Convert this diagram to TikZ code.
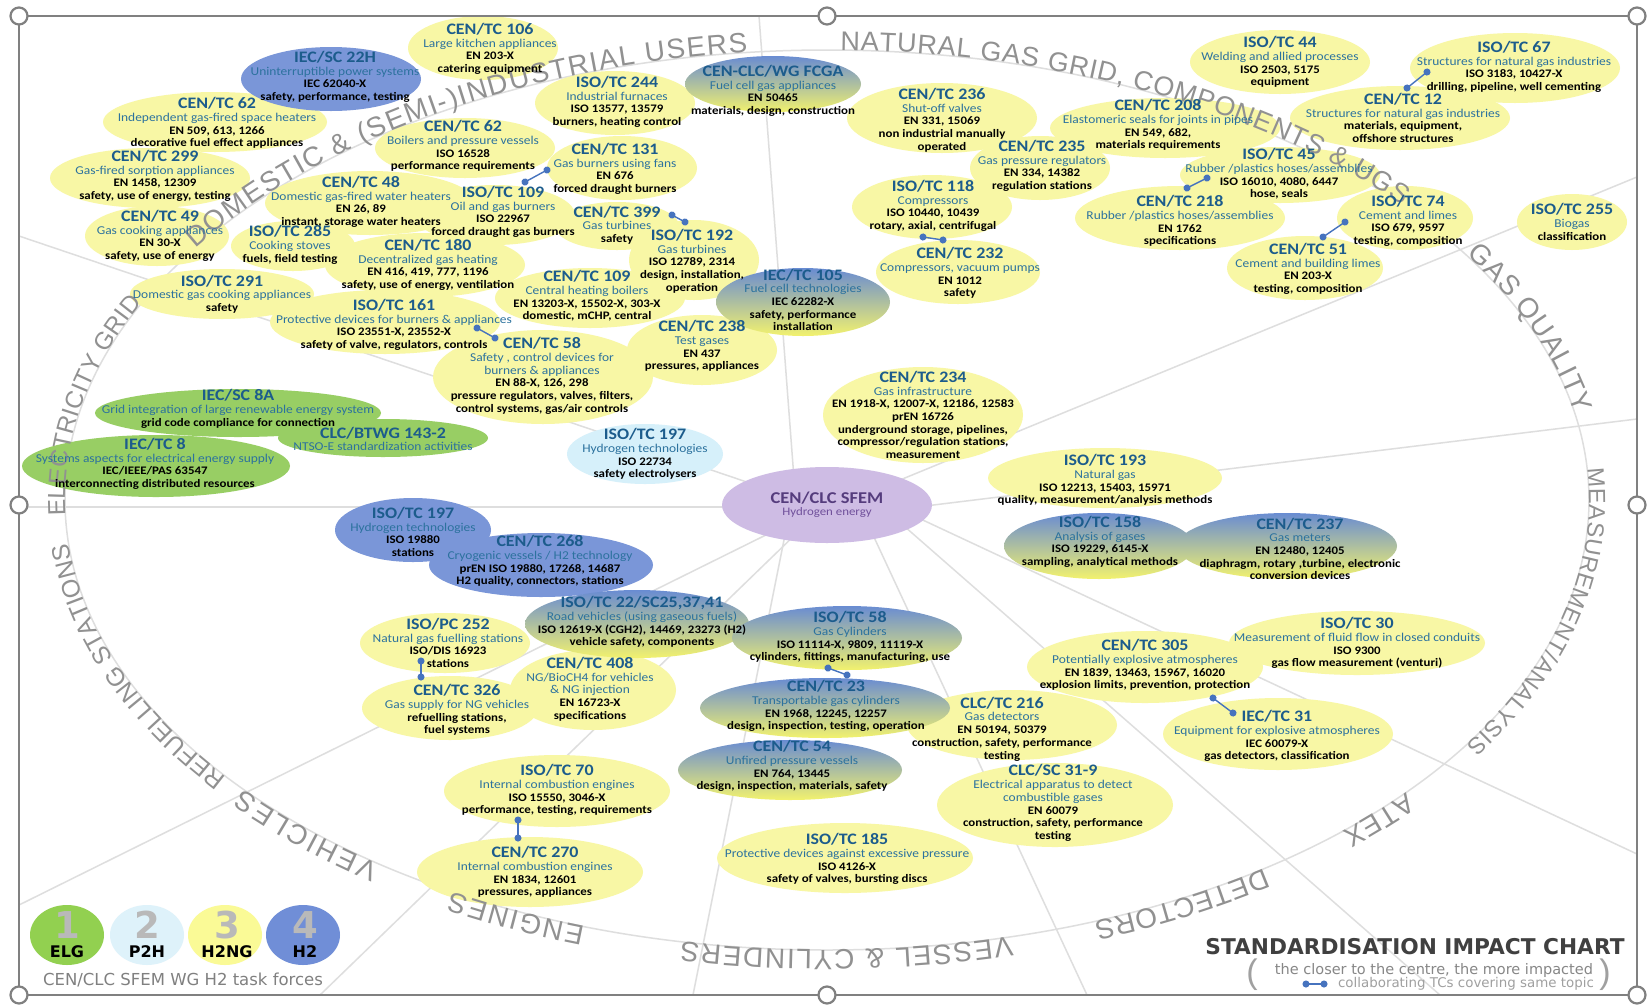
\documentclass[tikz,border=0pt]{standalone}
\usepackage{fontspec}
\setmainfont{Carlito}[FakeStretch=1.12]
\newfontfamily\labfont{Liberation Sans}
\newfontfamily\dvfont{DejaVu Sans}
\usetikzlibrary{decorations.text,arrows.meta,shapes.geometric}

\definecolor{ylw}{RGB}{248,247,165}
\definecolor{grn}{RGB}{152,206,100}
\definecolor{blu}{RGB}{122,150,216}
\definecolor{cyn}{RGB}{214,240,250}
\definecolor{prp}{RGB}{206,188,228}
\definecolor{ttlc}{RGB}{28,92,140}
\definecolor{subc}{RGB}{44,114,158}
\definecolor{gtop}{RGB}{105,140,210}
\definecolor{gbot}{RGB}{242,242,110}
\definecolor{linegray}{RGB}{222,222,222}
\definecolor{framegray}{RGB}{128,128,128}
\definecolor{labgray}{RGB}{145,145,145}
\definecolor{dotblue}{RGB}{70,115,190}
\definecolor{sfemt}{RGB}{85,60,125}
\definecolor{sfems}{RGB}{112,80,155}
\definecolor{chartgray}{RGB}{64,64,64}
\definecolor{subgray}{RGB}{135,135,135}
\definecolor{lgray}{RGB}{160,160,160}
\definecolor{numgray}{RGB}{185,185,185}
\definecolor{lgreen}{RGB}{146,208,80}
\definecolor{lcyan}{RGB}{222,242,250}
\definecolor{lyellow}{RGB}{250,250,150}
\definecolor{lblue}{RGB}{112,142,215}

\newcommand\tcfont{\bfseries\fontsize{11.5}{12.7}\selectfont}
\tikzset{
  tc/.style={align=center, inner sep=0pt, text=black, font=\tcfont},
  spoke/.style={linegray, line width=1.5pt},
  link/.style={dotblue, line width=1.4pt, {Circle[length=7pt]}-{Circle[length=7pt]},
    shorten <=-3.5pt, shorten >=-3.5pt},
  handle/.style={framegray, line width=2.2pt, fill=white},
  legnum/.style={font=\dvfont\bfseries\fontsize{37}{37}\selectfont, text=numgray, inner sep=0pt},
  leglab/.style={font=\dvfont\bfseries\fontsize{16}{16}\selectfont, text=black, inner sep=0pt}
}

\newcommand\EL[5]{\fill[#1] (#2,-#3) ellipse [x radius=#4, y radius=#5];}
\newcommand\GEL[4]{\shade[top color=gtop, bottom color=gbot] (#1,-#2) ellipse [x radius=#3, y radius=#4];}
\newcommand\TC[4]{\node[tc] (#1) at (#2,-#3) {#4};}
\newcommand\ttl[1]{{\color{ttlc}\fontsize{16}{12.7}\selectfont #1}}
\newcommand\sbt[1]{{\color{subc}\mdseries\fontsize{12}{12.7}\selectfont #1}}
% start angle, end angle, font size, text
\newcommand\ARC[4]{\path[decorate, decoration={text along path,
  text={|\labfont\fontsize{#3}{#3}\selectfont\color{labgray}|#4},
  text align=fit to path}] (827,-500) ++(#1:762 and 450)
  arc[start angle=#1, end angle=#2, x radius=762, y radius=450];}

\begin{document}
\begin{tikzpicture}[x=1pt, y=1pt]
\lineskiplimit=-30pt
\useasboundingbox (0,0) rectangle (1650,-1005);
\fill[white] (0,0) rectangle (1650,-1005);

% background ellipse and spokes
\draw[spoke] (827,-500) ellipse [x radius=762, y radius=450];
\draw[spoke] (796,-505) -- (759,-16);
\draw[spoke] (827,-510) -- (1637,-177);
\draw[spoke] (827,-518) -- (1637,-419);
\draw[spoke] (880,-500) -- (1637,-854);
\draw[spoke] (880,-505) -- (1440,-995);
\draw[spoke] (866,-520) -- (1087,-995);
\draw[spoke] (788,-520) -- (693,-995);
\draw[spoke] (800,-530) -- (320,-995);
\draw[spoke] (780,-528) -- (19,-905);
\draw[spoke] (760,-507) -- (19,-507);
\draw[spoke] (800,-500) -- (19,-236);

% yellow ellipses
\EL{ylw}{483}{48}{75}{32}
\EL{ylw}{215}{122}{112}{30}
\EL{ylw}{150}{178}{100}{30}
\EL{ylw}{157}{236}{72}{30}
\EL{ylw}{293}{246}{62}{25}
\EL{ylw}{222}{294}{92}{25}
\EL{ylw}{370}{203}{105}{32}
\EL{ylw}{425}{265}{100}{32}
\EL{ylw}{385}{322}{115}{32}
\EL{ylw}{465}{148}{90}{30}
\EL{ylw}{615}{103}{80}{32}
\EL{ylw}{622}{168}{75}{32}
\EL{ylw}{495}{215}{80}{30}
\EL{ylw}{617}{226}{62}{24}
\EL{ylw}{694}{260}{65}{40}
\EL{ylw}{590}{298}{95}{30}
\EL{ylw}{702}{350}{75}{35}
\EL{ylw}{543}{377}{110}{47}
\EL{ylw}{942}{118}{95}{35}
\EL{ylw}{1165}{128}{115}{30}
\EL{ylw}{1040}{168}{70}{32}
\EL{ylw}{932}{207}{80}{32}
\EL{ylw}{958}{272}{82}{32}
\EL{ylw}{1180}{218}{105}{32}
\EL{ylw}{1280}{175}{100}{28}
\EL{ylw}{1280}{62}{90}{32}
\EL{ylw}{1515}{68}{105}{35}
\EL{ylw}{1400}{118}{110}{32}
\EL{ylw}{1405}{218}{68}{32}
\EL{ylw}{1305}{268}{78}{32}
\EL{ylw}{1572}{222}{55}{28}
\EL{ylw}{923}{415}{100}{48}
\EL{ylw}{1105}{478}{117}{30}
\EL{ylw}{1145}{667}{118}{36}
\EL{ylw}{1357}{643}{128}{32}
\EL{ylw}{445}{643}{85}{30}
\EL{ylw}{593}{690}{83}{40}
\EL{ylw}{450}{708}{88}{32}
\EL{ylw}{557}{791}{113}{36}
\EL{ylw}{530}{872}{113}{35}
\EL{ylw}{845}{858}{128}{35}
\EL{ylw}{1012}{725}{105}{35}
\EL{ylw}{1055}{805}{118}{42}
\EL{ylw}{1278}{734}{115}{36}
% green, cyan, blue
\EL{grn}{238}{413}{143}{24}
\EL{grn}{383}{438}{105}{19}
\EL{grn}{156}{466}{134}{31}
\EL{cyn}{645}{454}{78}{30}
\EL{blu}{331}{79}{90}{32}
\EL{blu}{413}{530}{78}{32}
\EL{blu}{541}{565}{112}{32}
% gradient ellipses
\GEL{773}{84}{88}{28}
\GEL{803}{302}{87}{34}
\GEL{637}{624}{112}{34}
\GEL{847}{638}{115}{32}
\GEL{825}{708}{125}{30}
\GEL{790}{770}{112}{30}
\GEL{1099}{546}{95}{33}
\GEL{1287}{546}{110}{33}

% centre
\node[ellipse, fill=prp, minimum width=210, minimum height=76, inner sep=0pt, align=center]
  (sfem) at (827,-505)
  {{\color{sfemt}\bfseries\fontsize{16.5}{14}\selectfont CEN/CLC SFEM}\\{\color{sfems}\fontsize{11.5}{13}\selectfont Hydrogen energy}};

% curved sector labels
\ARC{146}{96}{28}{DOMESTIC {\&} (SEMI-)INDUSTRIAL USERS}
\ARC{89}{41}{27}{NATURAL GAS GRID, COMPONENTS {\&} UGS}
\ARC{33}{11}{28}{GAS QUALITY}
\ARC{4}{-33}{23.5}{MEASUREMENT/ANALYSIS}
\ARC{-40.5}{-47.5}{28}{ATEX}
\ARC{-55}{-69.5}{28}{DETECTORS}
\ARC{-76}{-101}{28}{VESSEL {\&} CYLINDERS}
\ARC{-108.5}{-119.5}{28}{ENGINES}
\ARC{-126}{-140}{28}{VEHICLES}
\ARC{-142}{-174.5}{25}{REFUELLING STATIONS}
\ARC{182}{154}{24.5}{ELECTRICITY GRID}

% texts
\TC{sc22h}{335}{77}{\ttl{IEC/SC 22H}\\\sbt{Uninterruptible power systems}\\IEC 62040-X\\safety, performance, testing}
\TC{tc106}{490}{49}{\ttl{CEN/TC 106}\\\sbt{Large kitchen appliances}\\EN 203-X\\catering equipment}
\TC{tc62a}{217}{123}{\ttl{CEN/TC 62}\\\sbt{Independent gas-fired space heaters}\\EN 509, 613, 1266\\decorative fuel effect appliances}
\TC{tc299}{155}{176}{\ttl{CEN/TC 299}\\\sbt{Gas-fired sorption appliances}\\EN 1458, 12309\\safety, use of energy, testing}
\TC{tc49}{160}{236}{\ttl{CEN/TC 49}\\\sbt{Gas cooking appliances}\\EN 30-X\\safety, use of energy}
\TC{tc285}{290}{245}{\ttl{ISO/TC 285}\\\sbt{Cooking stoves}\\fuels, field testing}
\TC{tc291}{222}{294}{\ttl{ISO/TC 291}\\\sbt{Domestic gas cooking appliances}\\safety}
\TC{tc48}{361}{202}{\ttl{CEN/TC 48}\\\sbt{Domestic gas-fired water heaters}\\EN 26, 89\\instant, storage water heaters}
\TC{tc180}{428}{265}{\ttl{CEN/TC 180}\\\sbt{Decentralized gas heating}\\EN 416, 419, 777, 1196\\safety, use of energy, ventilation}
\TC{tc161}{394}{325}{\ttl{ISO/TC 161}\\\sbt{Protective devices for burners \& appliances}\\ISO 23551-X, 23552-X\\safety of valve, regulators, controls}
\TC{tc62b}{463}{146}{\ttl{CEN/TC 62}\\\sbt{Boilers and pressure vessels}\\ISO 16528\\performance requirements}
\TC{tc244}{617}{102}{\ttl{ISO/TC 244}\\\sbt{Industrial furnaces}\\ISO 13577, 13579\\burners, heating control}
\TC{fcga}{773}{91}{\ttl{CEN-CLC/WG FCGA}\\\sbt{Fuel cell gas appliances}\\EN 50465\\materials, design, construction}
\TC{tc131}{615}{169}{\ttl{CEN/TC 131}\\\sbt{Gas burners using fans}\\EN 676\\forced draught burners}
\TC{tc109i}{503}{212}{\ttl{ISO/TC 109}\\\sbt{Oil and gas burners}\\ISO 22967\\forced draught gas burners}
\TC{tc399}{617}{225}{\ttl{CEN/TC 399}\\\sbt{Gas turbines}\\safety}
\TC{tc192}{692}{261}{\ttl{ISO/TC 192}\\\sbt{Gas turbines}\\ISO 12789, 2314\\design, installation,\\operation}
\TC{tc109c}{587}{296}{\ttl{CEN/TC 109}\\\sbt{Central heating boilers}\\EN 13203-X, 15502-X, 303-X\\domestic, mCHP, central}
\TC{tc105}{803}{300}{\ttl{IEC/TC 105}\\\sbt{Fuel cell technologies}\\IEC 62282-X\\safety, performance\\installation}
\TC{tc238}{702}{346}{\ttl{CEN/TC 238}\\\sbt{Test gases}\\EN 437\\pressures, appliances}
\TC{tc58c}{542}{376}{\ttl{CEN/TC 58}\\\sbt{Safety , control devices for}\\\sbt{burners \& appliances}\\EN 88-X, 126, 298\\pressure regulators, valves, filters,\\control systems, gas/air controls}
\TC{tc236}{942}{120}{\ttl{CEN/TC 236}\\\sbt{Shut-off valves}\\EN 331, 15069\\non industrial manually\\operated}
\TC{tc208}{1158}{125}{\ttl{CEN/TC 208}\\\sbt{Elastomeric seals for joints in pipes}\\EN 549, 682,\\materials requirements}
\TC{tc235}{1042}{166}{\ttl{CEN/TC 235}\\\sbt{Gas pressure regulators}\\EN 334, 14382\\regulation stations}
\TC{tc118}{933}{206}{\ttl{ISO/TC 118}\\\sbt{Compressors}\\ISO 10440, 10439\\rotary, axial, centrifugal}
\TC{tc232}{960}{273}{\ttl{CEN/TC 232}\\\sbt{Compressors, vacuum pumps}\\EN 1012\\safety}
\TC{tc218}{1180}{221}{\ttl{CEN/TC 218}\\\sbt{Rubber /plastics hoses/assemblies}\\EN 1762\\specifications}
\TC{tc45}{1279}{174}{\ttl{ISO/TC 45}\\\sbt{Rubber /plastics hoses/assemblies}\\ISO 16010, 4080, 6447\\hose, seals}
\TC{tc44}{1280}{62}{\ttl{ISO/TC 44}\\\sbt{Welding and allied processes}\\ISO 2503, 5175\\equipment}
\TC{tc67}{1514}{67}{\ttl{ISO/TC 67}\\\sbt{Structures for natural gas industries}\\ISO 3183, 10427-X\\drilling, pipeline, well cementing}
\TC{tc12}{1403}{118}{\ttl{CEN/TC 12}\\\sbt{Structures for natural gas industries}\\materials, equipment,\\offshore structures}
\TC{tc74}{1408}{221}{\ttl{ISO/TC 74}\\\sbt{Cement and limes}\\ISO 679, 9597\\testing, composition}
\TC{tc51}{1308}{269}{\ttl{CEN/TC 51}\\\sbt{Cement and building limes}\\EN 203-X\\testing, composition}
\TC{tc255}{1572}{222}{\ttl{ISO/TC 255}\\\sbt{Biogas}\\classification}
\TC{sc8a}{238}{409}{\ttl{IEC/SC 8A}\\\sbt{Grid integration of large renewable energy system}\\grid code compliance for connection}
\TC{btwg}{383}{439}{\ttl{CLC/BTWG 143-2}\\\sbt{NTSO-E standardization activities}}
\TC{tc8}{155}{464}{\ttl{IEC/TC 8}\\\sbt{Systems aspects for electrical energy supply}\\IEC/IEEE/PAS 63547\\interconnecting distributed resources}
\TC{tc197b}{413}{532}{\ttl{ISO/TC 197}\\\sbt{Hydrogen technologies}\\ISO 19880\\stations}
\TC{tc268}{540}{561}{\ttl{CEN/TC 268}\\\sbt{Cryogenic vessels / H2 technology}\\prEN ISO 19880, 17268, 14687\\H2 quality, connectors, stations}
\TC{tc197c}{645}{454}{\ttl{ISO/TC 197}\\\sbt{Hydrogen technologies}\\ISO 22734\\safety electrolysers}
\TC{tc22}{642}{622}{\ttl{ISO/TC 22/SC25,37,41}\\\sbt{Road vehicles (using gaseous fuels)}\\ISO 12619-X (CGH2), 14469, 23273 (H2)\\vehicle safety, components}
\TC{pc252}{448}{643}{\ttl{ISO/PC 252}\\\sbt{Natural gas fuelling stations}\\ISO/DIS 16923\\stations}
\TC{tc58i}{850}{637}{\ttl{ISO/TC 58}\\\sbt{Gas Cylinders}\\ISO 11114-X, 9809, 11119-X\\cylinders, fittings, manufacturing, use}
\TC{tc234}{923}{415}{\ttl{CEN/TC 234}\\\sbt{Gas infrastructure}\\EN 1918-X, 12007-X, 12186, 12583\\prEN 16726\\underground storage, pipelines,\\compressor/regulation stations,\\measurement}
\TC{tc193}{1105}{480}{\ttl{ISO/TC 193}\\\sbt{Natural gas}\\ISO 12213, 15403, 15971\\quality, measurement/analysis methods}
\TC{tc158}{1100}{542}{\ttl{ISO/TC 158}\\\sbt{Analysis of gases}\\ISO 19229, 6145-X\\sampling, analytical methods}
\TC{tc237}{1300}{549}{\ttl{CEN/TC 237}\\\sbt{Gas meters}\\EN 12480, 12405\\diaphragm, rotary ,turbine, electronic\\conversion devices}
\TC{tc305}{1145}{665}{\ttl{CEN/TC 305}\\\sbt{Potentially explosive atmospheres}\\EN 1839, 13463, 15967, 16020\\explosion limits, prevention, protection}
\TC{tc30}{1357}{643}{\ttl{ISO/TC 30}\\\sbt{Measurement of fluid flow in closed conduits}\\ISO 9300\\gas flow measurement (venturi)}
\TC{tc408}{590}{689}{\ttl{CEN/TC 408}\\\sbt{NG/BioCH4 for vehicles}\\\sbt{\& NG injection}\\EN 16723-X\\specifications}
\TC{tc326}{457}{710}{\ttl{CEN/TC 326}\\\sbt{Gas supply for NG vehicles}\\refuelling stations,\\fuel systems}
\TC{tc70}{557}{790}{\ttl{ISO/TC 70}\\\sbt{Internal combustion engines}\\ISO 15550, 3046-X\\performance, testing, requirements}
\TC{tc270}{535}{872}{\ttl{CEN/TC 270}\\\sbt{Internal combustion engines}\\EN 1834, 12601\\pressures, appliances}
\TC{tc23}{826}{706}{\ttl{CEN/TC 23}\\\sbt{Transportable gas cylinders}\\EN 1968, 12245, 12257\\design, inspection, testing, operation}
\TC{tc54}{792}{766}{\ttl{CEN/TC 54}\\\sbt{Unfired pressure vessels}\\EN 764, 13445\\design, inspection, materials, safety}
\TC{tc185}{847}{859}{\ttl{ISO/TC 185}\\\sbt{Protective devices against excessive pressure}\\ISO 4126-X\\safety of valves, bursting discs}
\TC{tc216}{1002}{729}{\ttl{CLC/TC 216}\\\sbt{Gas detectors}\\EN 50194, 50379\\construction, safety, performance\\testing}
\TC{sc319}{1053}{803}{\ttl{CLC/SC 31-9}\\\sbt{Electrical apparatus to detect}\\\sbt{combustible gases}\\EN 60079\\construction, safety, performance\\testing}
\TC{tc31}{1277}{736}{\ttl{IEC/TC 31}\\\sbt{Equipment for explosive atmospheres}\\IEC 60079-X\\gas detectors, classification}

% collaboration links
\coordinate (k1a) at (525,-182); \coordinate (k1b) at (547,-170);
\coordinate (k2a) at (672,-215); \coordinate (k2b) at (685,-222);
\coordinate (k3a) at (477,-328); \coordinate (k3b) at (495,-338);
\coordinate (k4a) at (923,-237); \coordinate (k4b) at (943,-240);
\coordinate (k5a) at (1207,-178); \coordinate (k5b) at (1187,-188);
\coordinate (k6a) at (1427,-72); \coordinate (k6b) at (1407,-88);
\coordinate (k7a) at (1345,-222); \coordinate (k7b) at (1323,-237);
\coordinate (k8a) at (421,-661); \coordinate (k8b) at (421,-677);
\coordinate (k9a) at (518,-820); \coordinate (k9b) at (518,-838);
\coordinate (k10a) at (828,-668); \coordinate (k10b) at (847,-675);
\coordinate (k11a) at (1213,-698); \coordinate (k11b) at (1233,-713);
\foreach \k in {1,...,11} {\draw[link] (k\k a) -- (k\k b);}

% frame with handles
\draw[framegray, line width=2pt] (19,-16) rectangle (1637,-995);
\foreach \p in {(19,-16),(827,-16),(1637,-16),(19,-505),(1637,-505),(19,-995),(827,-995),(1637,-995)}
  \draw[handle] \p circle (8.5);

% legend
\EL{lgreen}{67}{935}{37}{30}
\EL{lcyan}{147}{935}{37}{30}
\EL{lyellow}{225}{935}{37}{30}
\EL{lblue}{303}{935}{37}{30}
\node[legnum] (n1) at (67,-925) {1};
\node[legnum] (n2) at (147,-925) {2};
\node[legnum] (n3) at (227,-925) {3};
\node[legnum] (n4) at (305,-925) {4};
\node[leglab] (g1) at (67,-952) {ELG};
\node[leglab] (g2) at (147,-952) {P2H};
\node[leglab] (g3) at (227,-952) {H2NG};
\node[leglab] (g4) at (305,-952) {H2};
\node[font=\dvfont\fontsize{16.5}{18}\selectfont, text=framegray, inner sep=0pt] (tf) at (183,-980) {CEN/CLC SFEM WG H2 task forces};

% chart title
\node[font=\dvfont\bfseries\fontsize{21.7}{24}\selectfont, text=chartgray, inner sep=0pt] (chart) at (1415,-947) {STANDARDISATION IMPACT CHART};
\node[font=\dvfont\fontsize{14.5}{16}\selectfont, text=subgray, inner sep=0pt] (closer) at (1434,-970) {the closer to the centre, the more impacted};
\node[font=\dvfont\fontsize{13.4}{16}\selectfont, text=lgray, inner sep=0pt] (collab) at (1466,-984) {collaborating TCs covering same topic};
\coordinate (ka) at (1306,-984); \coordinate (kb) at (1324,-984);
\draw[link] (ka) -- (kb);
\node[font=\labfont\fontsize{34}{34}\selectfont, text=lgray, inner sep=0pt] (lpar) at (1252,-975) {(};
\node[font=\labfont\fontsize{34}{34}\selectfont, text=lgray, inner sep=0pt] (rpar) at (1605,-975) {)};
\end{tikzpicture}
\end{document}
